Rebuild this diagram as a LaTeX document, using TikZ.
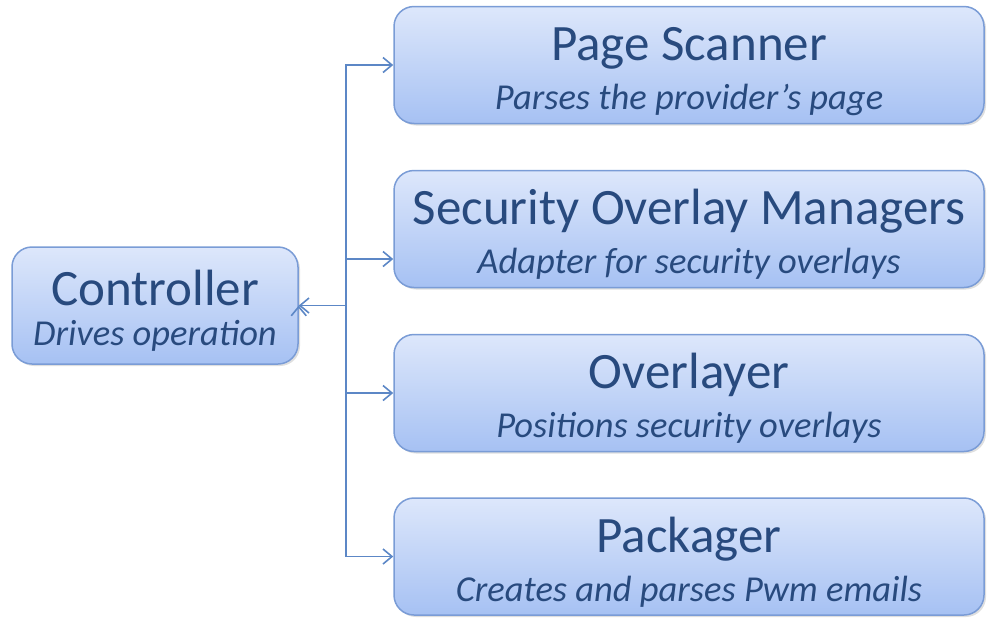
\documentclass[tikz,border=0pt]{standalone}
\usepackage{fontspec}
\setmainfont{Carlito}
\usepackage{tikz}
\usetikzlibrary{arrows.meta,shadows}
\definecolor{boxtop}{HTML}{DDE7FB}
\definecolor{boxbot}{HTML}{A6C1F3}
\definecolor{boxline}{HTML}{7A9CD6}
\definecolor{boxtext}{HTML}{284A7E}
\definecolor{wire}{HTML}{5C87C6}
\newcommand{\boxtitle}{\fontsize{51pt}{51pt}\selectfont\rule{0pt}{46pt}}
\newcommand{\boxsub}{\fontsize{36.5pt}{36.5pt}\selectfont\itshape}
\tikzstyle{module}=[draw=boxline, line width=1.5pt, rounded corners=20pt,
  top color=boxtop, bottom color=boxbot, text=boxtext, align=center,
  inner sep=0pt, minimum height=117pt,
  drop shadow={shadow xshift=2pt, shadow yshift=-2pt, opacity=0.25}]
\tikzstyle{arrow}=[draw=wire, line width=1.6pt, >={Straight Barb[length=9pt,width=15pt]}]

\begin{document}
\begin{tikzpicture}[x=1pt, y=1pt]
	\useasboundingbox (0,0) rectangle (989,-619);
	\begin{scope}
		\node (ctrl) at (155, -305.5)[module, minimum width=286pt]
			{{\boxtitle Controller}\\[14pt]{\boxsub Drives operation}};
		\node (scan) at (689, -65)[module, minimum width=590pt]
			{{\boxtitle Page Scanner}\\[14pt]{\boxsub Parses the provider’s page}};
		\node (sec) at (689, -229)[module, minimum width=590pt]
			{{\boxtitle Security Overlay Managers}\\[14pt]{\boxsub Adapter for security overlays}};
		\node (lay) at (689, -393)[module, minimum width=590pt]
			{{\boxtitle Overlayer}\\[14pt]{\boxsub Positions security overlays}};
		\node (pack) at (689, -556.5)[module, minimum width=590pt]
			{{\boxtitle Packager}\\[14pt]{\boxsub Creates and parses Pwm emails}};
		\coordinate (bus) at (346, -305.5);
	\end{scope}
	\begin{scope}
		\path [arrow, <-] (ctrl.east) edge (bus);
		\draw [arrow, ->] (bus) |- (scan.west);
		\draw [arrow, ->] (bus) |- ([yshift=-30pt]sec.west);
		\draw [arrow, ->] (bus) |- (lay.west);
		\draw [arrow, ->] (bus) |- (pack.west);
	\end{scope}
\end{tikzpicture}
\end{document}
